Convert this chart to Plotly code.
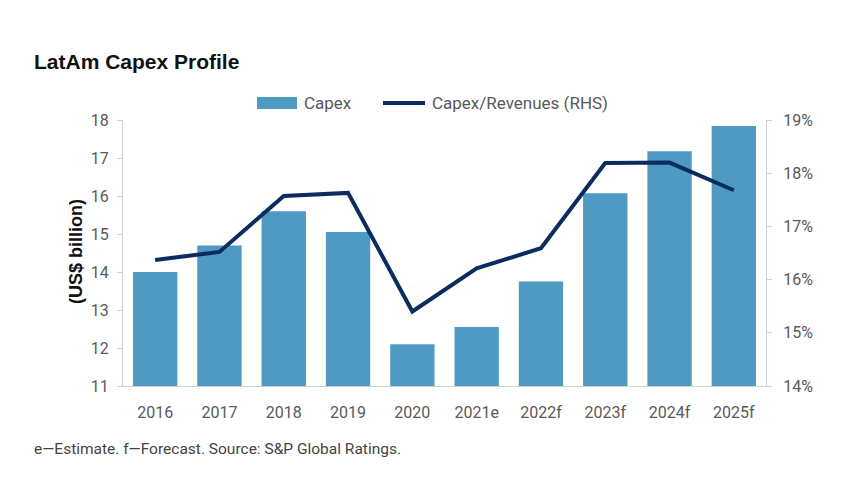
import plotly.graph_objects as go

categories = ["2016", "2017", "2018", "2019", "2020", "2021e", "2022f", "2023f", "2024f", "2025f"]
capex = [14.0, 14.7, 15.6, 15.05, 12.1, 12.55, 13.75, 16.07, 17.18, 17.84]
capex_rev = [16.37, 16.52, 17.57, 17.63, 15.40, 16.21, 16.59, 18.19, 18.20, 17.68]
left_ticks = [11, 12, 13, 14, 15, 16, 17, 18]
right_ticks = [14, 15, 16, 17, 18, 19]
right_labels = [f"{v}%" for v in right_ticks]

W, H = 842, 486
L, R, T, B = 123, 766, 120, 386

def px(x):
    return (x - L) / (R - L)

def py(y):
    return (B - y) / (B - T)

BAR = "#4F9AC3"
LINE = "#0B2D5E"
GRAY = "#595959"
AXIS = "#D0D0D0"
FONT = "Roboto, Arial"

fig = go.Figure()
fig.add_trace(go.Bar(x=categories, y=capex, name="Capex", marker=dict(color=BAR, line=dict(width=0)),
                     yaxis="y", showlegend=False))
fig.add_trace(go.Scatter(x=categories, y=capex_rev, name="Capex/Revenues (RHS)", mode="lines",
                         line=dict(color=LINE, width=4), yaxis="y2", showlegend=False))

fig.update_layout(
    width=W, height=H,
    margin=dict(l=L, r=W - R, t=T, b=H - B),
    paper_bgcolor="white", plot_bgcolor="white",
    bargap=0.31,
    font=dict(family=FONT, size=16, color=GRAY),
    title=dict(text="<b>LatAm Capex Profile</b>", x=34 / W, xanchor="left", xref="container",
               y=1 - 62 / H, yref="container", yanchor="middle",
               font=dict(family="Liberation Sans, Arial", size=21, color="#111111")),
    xaxis=dict(showline=True, linecolor=AXIS, linewidth=1, ticks="", showgrid=False,
               tickfont=dict(family=FONT, size=16, color=GRAY), ticklabelstandoff=12),
    yaxis=dict(range=[11, 18], tickvals=left_ticks, showgrid=False, zeroline=False,
               showline=True, linecolor=AXIS, linewidth=1, ticks="outside", ticklen=5, tickcolor=AXIS,
               tickfont=dict(family=FONT, size=16, color=GRAY), ticklabelstandoff=5),
    yaxis2=dict(range=[14, 19], tickvals=right_ticks, ticktext=right_labels, overlaying="y", side="right",
                showgrid=False, zeroline=False, showline=True, linecolor=AXIS, linewidth=1,
                ticks="outside", ticklen=5, tickcolor=AXIS,
                tickfont=dict(family=FONT, size=16, color=GRAY), ticklabelstandoff=8),
)

# manual legend
fig.add_shape(type="rect", xref="paper", yref="paper", x0=px(257), x1=px(297), y0=py(109), y1=py(97),
              fillcolor=BAR, line=dict(width=0))
fig.add_shape(type="line", xref="paper", yref="paper", x0=px(383), x1=px(425), y0=py(103), y1=py(103),
              line=dict(color=LINE, width=4))
fig.add_annotation(x=px(302), y=py(103), xref="paper", yref="paper", text="Capex", showarrow=False,
                   xanchor="left", yanchor="middle", font=dict(family=FONT, size=17, color=GRAY))
fig.add_annotation(x=px(430), y=py(103), xref="paper", yref="paper", text="Capex/Revenues (RHS)",
                   showarrow=False, xanchor="left", yanchor="middle", font=dict(family=FONT, size=17, color=GRAY))

# y-axis title
fig.add_annotation(x=px(76), y=py(252), xref="paper", yref="paper", text="<b>(US$ billion)</b>",
                   showarrow=False, textangle=-90, xanchor="center", yanchor="middle",
                   font=dict(family="Liberation Sans, Arial", size=18, color="#111111"))

# footnote
fig.add_annotation(x=px(32), y=py(449), xref="paper", yref="paper",
                   text="e—Estimate. f—Forecast. Source: S&P Global Ratings.",
                   showarrow=False, xanchor="left", yanchor="middle", font=dict(family=FONT, size=15.5, color="#444444"))

fig.write_html("out.html")
